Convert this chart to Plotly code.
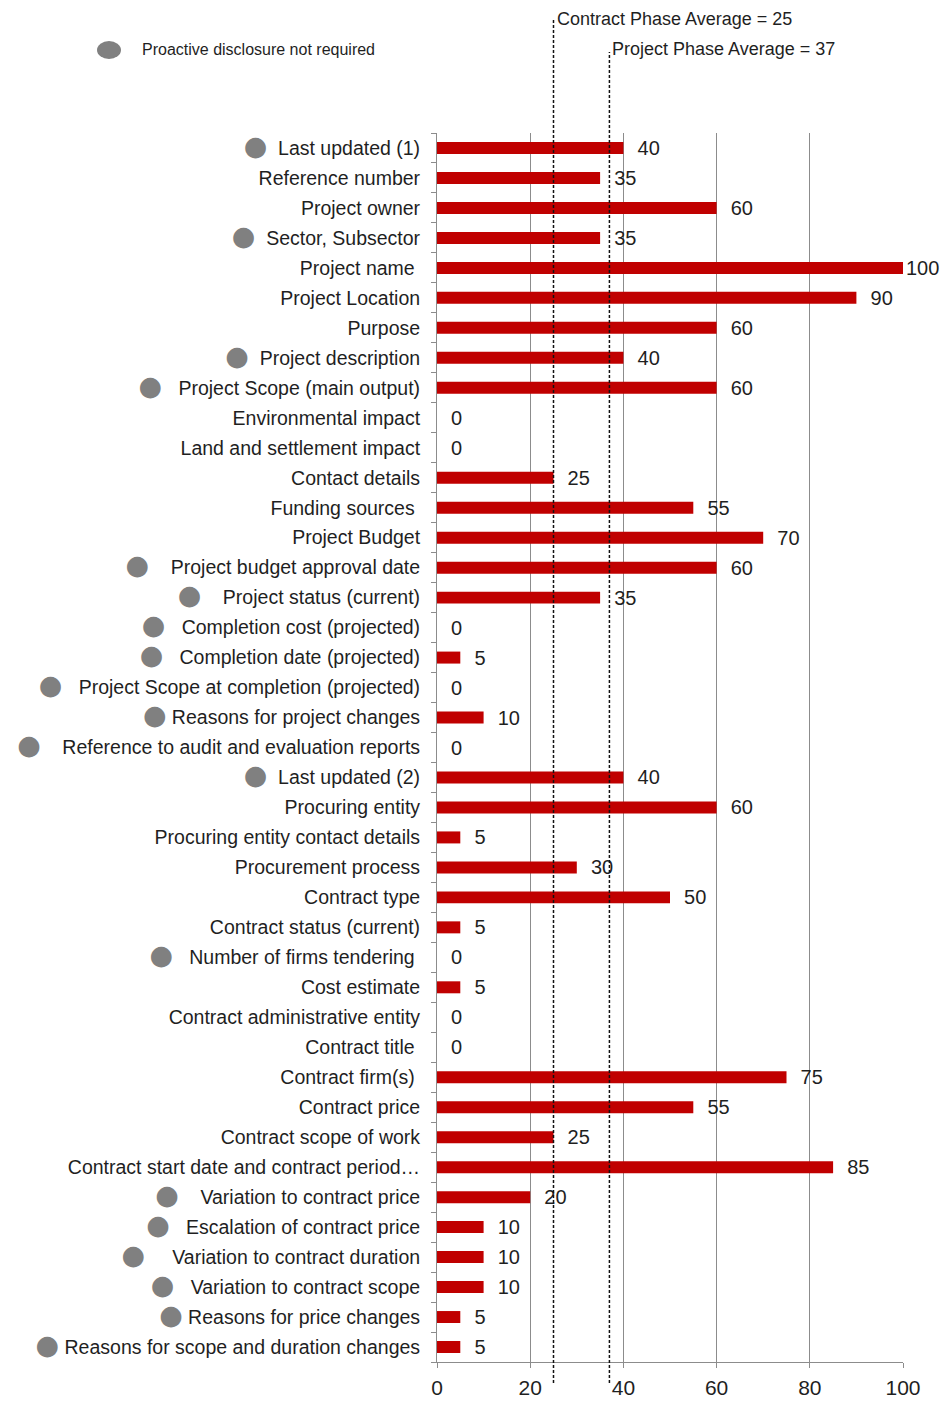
import plotly.graph_objects as go

# ---------------- data ----------------
categories = [
    "Last updated (1)", "Reference number", "Project owner", "Sector, Subsector",
    "Project name", "Project Location", "Purpose", "Project description",
    "Project Scope (main output)", "Environmental impact", "Land and settlement impact",
    "Contact details", "Funding sources", "Project Budget", "Project budget approval date",
    "Project status (current)", "Completion cost (projected)", "Completion date (projected)",
    "Project Scope at completion (projected)", "Reasons for project changes",
    "Reference to audit and evaluation reports", "Last updated (2)", "Procuring entity",
    "Procuring entity contact details", "Procurement process", "Contract type",
    "Contract status (current)", "Number of firms tendering", "Cost estimate",
    "Contract administrative entity", "Contract title", "Contract firm(s)", "Contract price",
    "Contract scope of work", "Contract start date and contract period\u2026",
    "Variation to contract price", "Escalation of contract price",
    "Variation to contract duration", "Variation to contract scope",
    "Reasons for price changes", "Reasons for scope and duration changes",
]
scores = [40, 35, 60, 35, 100, 90, 60, 40, 60, 0, 0, 25, 55, 70, 60, 35, 0, 5, 0, 10, 0,
          40, 60, 5, 30, 50, 5, 0, 5, 0, 0, 75, 55, 25, 85, 20, 10, 10, 10, 5, 5]
not_required = [1, 0, 0, 1, 0, 0, 0, 1, 1, 0, 0, 0, 0, 0, 1, 1, 1, 1, 1, 1, 1,
                1, 0, 0, 0, 0, 0, 1, 0, 0, 0, 0, 0, 0, 0, 1, 1, 1, 1, 1, 1]
contract_phase_avg = 25
project_phase_avg = 37
x_ticks = [0, 20, 40, 60, 80, 100]
legend_label = "Proactive disclosure not required"

# ---------------- styling / layout helpers ----------------
W, H = 942, 1401
L, R, T, B = 437, 39, 133, 39
PW, PH = W - L - R, H - T - B
def px_x(p):
    return (p - L) / PW
def px_y(p):
    return (H - B - p) / PH

NB = "\u00a0"
# spacing (in blanks) between grey marker and label text (visual only)
dot_gap = {
    "Last updated (1)": 2, "Sector, Subsector": 2, "Project description": 2,
    "Project Scope (main output)": 3, "Project budget approval date": 4,
    "Project status (current)": 4, "Completion cost (projected)": 3,
    "Completion date (projected)": 3, "Project Scope at completion (projected)": 3,
    "Reasons for project changes": 1, "Reference to audit and evaluation reports": 4,
    "Last updated (2)": 2, "Number of firms tendering": 3,
    "Variation to contract price": 4, "Escalation of contract price": 3,
    "Variation to contract duration": 5, "Variation to contract scope": 3,
    "Reasons for price changes": 1, "Reasons for scope and duration changes": 1,
}
trailing = {"Project name": 1, "Funding sources": 1, "Number of firms tendering": 1,
            "Contract title": 1, "Contract firm(s)": 1}
DOT = ('<span style="color:#808080;font-family:DejaVu Sans;font-size:27px">'
       '\u25cf</span>')

ticktext = []
for c, nr in zip(categories, not_required):
    t = c + NB * trailing.get(c, 0)
    if nr:
        t = DOT + NB * dot_gap.get(c, 2) + t
    ticktext.append(t)

xmax = x_ticks[-1]
bar_text = [("" if v >= xmax else NB * 2) + str(v) for v in scores]

TXT = "#1f1f1f"
GRID = "#8c8c8c"
FONT = "Liberation Sans, Arial, sans-serif"

fig = go.Figure()
fig.add_trace(go.Bar(
    y=categories, x=scores, orientation="h",
    marker=dict(color="#C00000", line=dict(width=0)),
    width=0.4,
    text=bar_text, textposition="outside", cliponaxis=False,
    constraintext="none",
    textfont=dict(size=20, color=TXT, family=FONT),
    hoverinfo="x+y",
))

shapes = []
for val, top in ((contract_phase_avg, 20), (project_phase_avg, 52)):
    shapes.append(dict(type="line", xref="x", yref="paper", x0=val, x1=val,
                       y0=px_y(1383), y1=px_y(top),
                       line=dict(color="#111111", width=1.5, dash="3px,2px"),
                       layer="above"))
# legend marker
shapes.append(dict(type="circle", xref="paper", yref="paper",
                   x0=px_x(97), x1=px_x(121), y0=px_y(59), y1=px_y(41),
                   fillcolor="#808080", line=dict(width=0)))

annotations = [
    dict(xref="x", yref="paper", x=contract_phase_avg, y=px_y(19), xanchor="left",
         yanchor="middle", xshift=1, showarrow=False,
         text=f"Contract Phase Average = {contract_phase_avg}",
         font=dict(size=18, color=TXT, family=FONT)),
    dict(xref="x", yref="paper", x=project_phase_avg, y=px_y(49), xanchor="left",
         yanchor="middle", xshift=1, showarrow=False,
         text=f"Project Phase Average = {project_phase_avg}",
         font=dict(size=18, color=TXT, family=FONT)),
    dict(xref="paper", yref="paper", x=px_x(140), y=px_y(50), xanchor="left",
         yanchor="middle", showarrow=False, text=legend_label,
         font=dict(size=16, color=TXT, family=FONT)),
]

fig.update_layout(
    template="none",
    width=W, height=H,
    margin=dict(l=L, r=R, t=T, b=B, pad=0, autoexpand=False),
    paper_bgcolor="white", plot_bgcolor="white",
    showlegend=False,
    font=dict(family=FONT, color=TXT),
    shapes=shapes, annotations=annotations,
)
fig.update_xaxes(
    range=[0, xmax], tickvals=x_ticks, showgrid=True, gridcolor=GRID, gridwidth=1,
    zeroline=False, showline=True, linecolor=GRID, linewidth=1,
    ticks="outside", ticklen=5, tickcolor=GRID, ticklabelstandoff=2,
    tickfont=dict(size=21, color=TXT, family=FONT), fixedrange=True, automargin=False,
)
fig.update_yaxes(
    type="category", autorange="reversed", categoryorder="array",
    categoryarray=categories, tickvals=categories, ticktext=ticktext,
    showgrid=False, showline=True, linecolor=GRID, linewidth=1,
    ticks="outside", ticklen=5, tickcolor=GRID, tickson="boundaries",
    ticklabelstandoff=12,
    tickfont=dict(size=19.5, color=TXT, family=FONT), fixedrange=True, automargin=False,
)

fig.write_html("out.html", config={"displayModeBar": False},
               post_script="document.body.style.margin='0';")
